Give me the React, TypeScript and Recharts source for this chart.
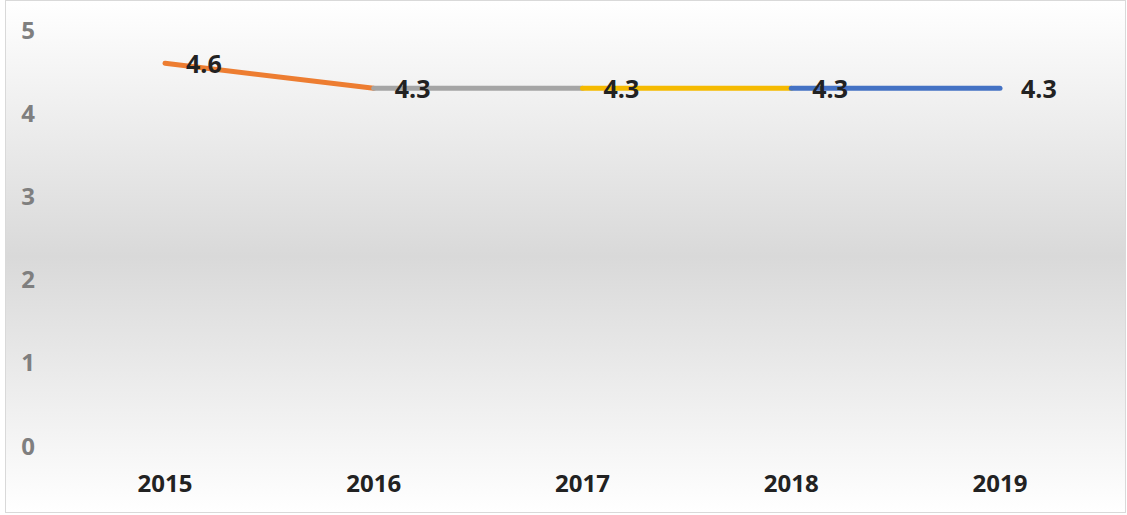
import React from 'react'
import { LineChart, Line, XAxis, YAxis, LabelList } from 'recharts'

const years = ['2015', '2016', '2017', '2018', '2019']
const values = [4.6, 4.3, 4.3, 4.3, 4.3]
const segmentColors = ['#ED7D31', '#A5A5A5', '#F5BA00', '#4472C4']
const yTicks = [0, 1, 2, 3, 4, 5]

// one row per year; each segment key only holds the two points it joins
const rows = years.map((year, i) => {
  const row: Record<string, string | number | null> = { year, value: values[i] }
  segmentColors.forEach((_, s) => {
    row[`seg${s}`] = i === s || i === s + 1 ? values[i] : null
  })
  return row
})

const renderValueLabel = (props: any) => {
  const { x, y, value } = props
  return (
    <text
      x={x + 21}
      y={y}
      dominantBaseline="central"
      fill="#222222"
      fontSize={25}
      fontWeight={700}
      fontFamily="'Open Sans', sans-serif"
    >
      {value}
    </text>
  )
}

export default function App() {
  return (
    <div
      style={{
        position: 'absolute',
        left: 5,
        top: 0,
        width: 1119,
        height: 511,
        border: '1px solid #d9d9d9',
        background: 'linear-gradient(to bottom, #ffffff 0%, #d9d9d9 50%, #ffffff 100%)',
        fontFamily: "'Open Sans', sans-serif",
      }}
    >
      <LineChart
        width={1119}
        height={511}
        data={rows}
        margin={{ top: 29, right: 21, bottom: 0, left: 0 }}
      >
        <XAxis
          dataKey="year"
          axisLine={false}
          tickLine={false}
          tickSize={0}
          tickMargin={29}
          height={66}
          padding={{ left: 104, right: 104 }}
          tick={{ fill: '#222222', fontSize: 24, fontWeight: 700 }}
        />
        <YAxis
          type="number"
          domain={[0, 5]}
          ticks={yTicks}
          axisLine={false}
          tickLine={false}
          tickSize={0}
          tickMargin={26}
          width={55}
          tick={{ fill: '#7f7f7f', fontSize: 24, fontWeight: 700 }}
        />
        {segmentColors.map((color, s) => (
          <Line
            key={s}
            type="linear"
            dataKey={`seg${s}`}
            stroke={color}
            strokeWidth={5}
            strokeLinecap="round"
            dot={false}
            activeDot={false}
            connectNulls={false}
            isAnimationActive={false}
          />
        ))}
        <Line
          type="linear"
          dataKey="value"
          stroke="none"
          dot={false}
          activeDot={false}
          isAnimationActive={false}
        >
          <LabelList dataKey="value" content={renderValueLabel} />
        </Line>
      </LineChart>
    </div>
  )
}
